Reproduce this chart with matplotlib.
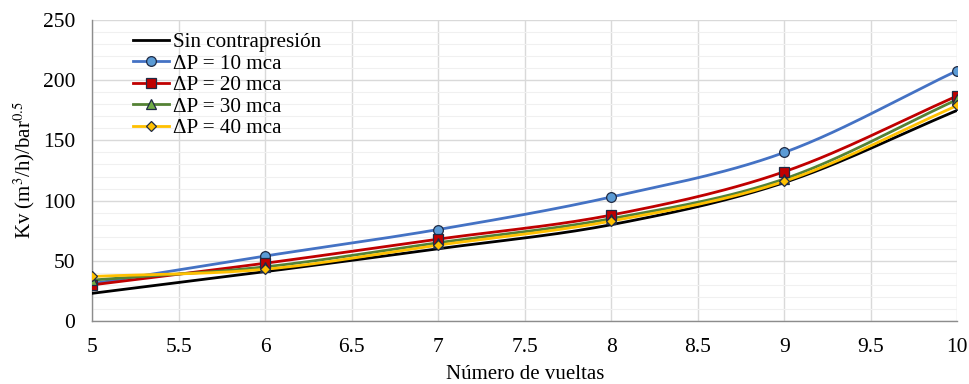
import matplotlib
matplotlib.use("Agg")
import matplotlib.pyplot as plt
from matplotlib.ticker import MultipleLocator
import numpy as np

plt.rcParams['font.family'] = ['Liberation Serif', 'DejaVu Serif']
plt.rcParams['mathtext.fontset'] = 'stix'

vueltas = [5, 6, 7, 8, 9, 10]
sin_contra = [23, 41, 60, 80, 115, 175]
dp10 = [31, 54, 76, 103, 140, 208]
dp20 = [30, 48, 68, 88, 124, 187]
dp30 = [34, 45, 65, 85, 118, 184]
dp40 = [37, 43, 63, 83, 116, 179]


def smooth(x, y, n=30):
    # Catmull-Rom curve through the points, like Excel's smoothed line
    x = np.asarray(x, float)
    y = np.asarray(y, float)
    px = np.concatenate([[2 * x[0] - x[1]], x, [2 * x[-1] - x[-2]]])
    py = np.concatenate([[2 * y[0] - y[1]], y, [2 * y[-1] - y[-2]]])
    xs, ys = [], []
    t = np.linspace(0, 1, n)
    for i in range(1, len(px) - 2):
        for p, out in ((px, xs), (py, ys)):
            p0, p1, p2, p3 = p[i - 1], p[i], p[i + 1], p[i + 2]
            out.extend(0.5 * (2 * p1 + (-p0 + p2) * t
                              + (2 * p0 - 5 * p1 + 4 * p2 - p3) * t**2
                              + (-p0 + 3 * p1 - 3 * p2 + p3) * t**3))
    return np.array(xs), np.array(ys)


fig = plt.figure(figsize=(9.7, 3.84), dpi=100)
ax = fig.add_axes([0.095, 0.164, 0.892, 0.784])

series = [
    ("Sin contrapresión", sin_contra, "#000000", None, None),
    ("ΔP = 10 mca", dp10, "#4472C4", "o", "#5B9BD5"),
    ("ΔP = 20 mca", dp20, "#C00000", "s", "#C00000"),
    ("ΔP = 30 mca", dp30, "#548235", "^", "#70AD47"),
    ("ΔP = 40 mca", dp40, "#FFC000", "D", "#FFC000"),
]

for label, vals, col, mk, fc in series:
    sx, sy = smooth(vueltas, vals)
    ax.plot(sx, sy, color=col, lw=2.0, zorder=3)
    if mk:
        ax.plot(vueltas, vals, ls="none", marker=mk, ms=7 if mk != "D" else 5.5,
                mfc=fc, mec="#1F2A44", mew=0.9, zorder=4)
    ax.plot([], [], color=col, lw=2.0, marker=mk,
            ms=7 if mk != "D" else 5.5, mfc=fc, mec="#1F2A44", mew=0.9,
            label=label)

ax.set_xlim(5, 10)
ax.set_ylim(0, 250)
ax.yaxis.set_major_locator(MultipleLocator(50))
ax.yaxis.set_minor_locator(MultipleLocator(10))
ax.set_xticks([5, 5.5, 6, 6.5, 7, 7.5, 8, 8.5, 9, 9.5, 10])
ax.set_xticklabels(["5", "5.5", "6", "6.5", "7", "7.5", "8", "8.5", "9", "9.5", "10"])

ax.grid(which="major", color="#D9D9D9", lw=1.0, zorder=0)
ax.grid(which="minor", axis="y", color="#F0F0F0", lw=0.8, zorder=0)
ax.tick_params(which="both", length=0, labelsize=15.5)
ax.tick_params(axis="x", pad=12)
ax.tick_params(axis="y", pad=12)
for s in ("top", "right"):
    ax.spines[s].set_visible(False)
for s in ("left", "bottom"):
    ax.spines[s].set_color("#8C8C8C")
    ax.spines[s].set_linewidth(1.0)

ax.set_xlabel("Número de vueltas", fontsize=15, labelpad=6)
ax.set_ylabel(r"Kv (m$^3$/h)/bar$^{0.5}$", fontsize=15, labelpad=4)

leg = ax.legend(loc="upper left", bbox_to_anchor=(0.032, 1.0), frameon=False,
                fontsize=15.2, handlelength=1.75, handletextpad=0.15,
                labelspacing=0.08, borderaxespad=0.2)

fig.savefig("out.png", dpi=100)
